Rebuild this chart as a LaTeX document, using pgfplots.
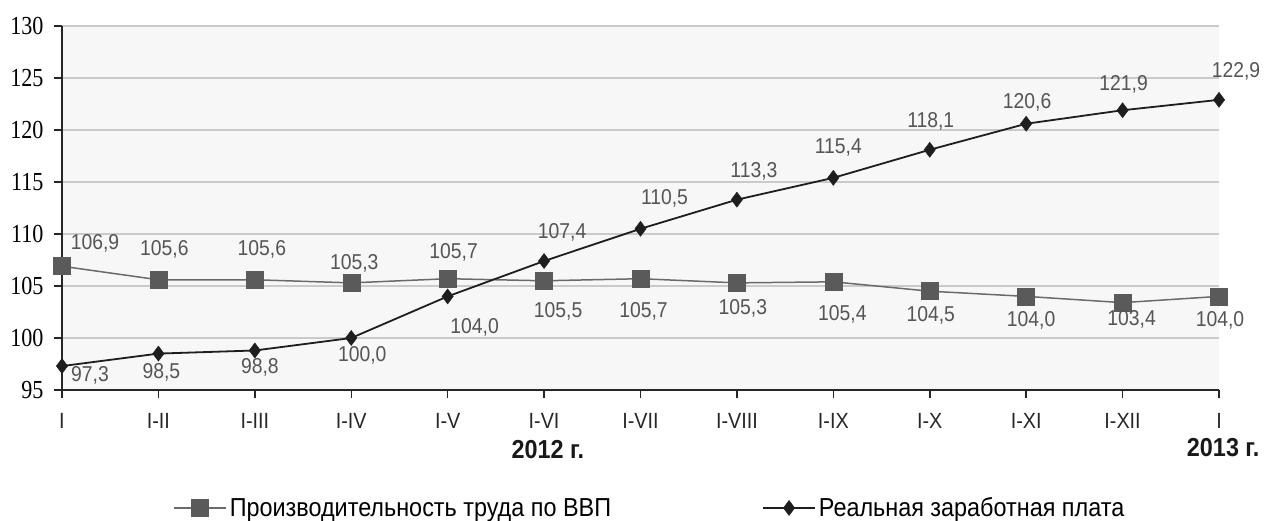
\documentclass[border=0pt]{standalone}
\usepackage{fontspec}
\setmainfont[FakeStretch=0.9]{Liberation Sans}
\newfontfamily\seriffont[FakeStretch=0.85]{Liberation Serif}
\usepackage{pgfplots}
\usepackage{pgfplotstable}
\pgfplotsset{compat=1.18}

\definecolor{prodgray}{HTML}{5A5A5A}
\definecolor{prodline}{HTML}{6A6A6A}
\definecolor{wageblack}{HTML}{1E1E1E}
\definecolor{labgray}{HTML}{555555}
\definecolor{gridgray}{HTML}{CACACA}
\definecolor{bggray}{HTML}{F7F7F7}

% x = period index, y = value, dx/dy = label offset in pt
\pgfplotstableread{
x y dx dy
0 106.9 33 23
1 105.6 6 30
2 105.6 7 30
3 105.3 3 20
4 105.7 6 26
5 105.5 14 -31
6 105.7 3 -33
7 105.3 6 -25
8 105.4 9 -33
9 104.5 1 -24
10 104.0 5 -24
11 103.4 9 -17
12 104.0 1 -24
}\tabprod

\pgfplotstableread{
x y dx dy
0 97.3 28 -9
1 98.5 3 -19
2 98.8 5 -17
3 100.0 11 -17
4 104.0 27 -31
5 107.4 18 29
6 110.5 24 30
7 113.3 17 28
8 115.4 5 30
9 118.1 1 28
10 120.6 1 21
11 121.9 1 26
12 122.9 17 28
}\tabwage

\pgfplotsset{
  vallabels/.style={
    draw=none, mark=none, forget plot,
    nodes near coords={\pgfmathprintnumber[fixed,fixed zerofill,precision=1,use comma]{\pgfplotspointmeta}},
    visualization depends on={\thisrow{dx}\as\labdx},
    visualization depends on={\thisrow{dy}\as\labdy},
    every node near coord/.append style={anchor=center, inner sep=0pt,
      xshift=\labdx pt, yshift=\labdy pt,
      font=\fontsize{21.5}{21.5}\selectfont, text=labgray},
  },
}

\begin{document}
\begin{tikzpicture}
\begin{axis}[
  name=ax,
  scale only axis, width=1157pt, height=364pt,
  xmin=0, xmax=12, ymin=95, ymax=130,
  xtick={0,...,12},
  xticklabels={I,I-II,I-III,I-IV,I-V,I-VI,I-VII,I-VIII,I-IX,I-X,I-XI,I-XII,I},
  ytick={95,100,...,130},
  axis x line=bottom, axis y line=left,
  axis line style={-, draw=black!85, line width=1.5pt},
  tick align=outside, major tick length=8pt,
  tick style={draw=black!85, line width=1.5pt},
  ymajorgrids, grid style={gridgray, line width=1.3pt},
  axis background/.style={fill=bggray},
  /pgf/number format/assume math mode=true,
  yticklabel style={font=\seriffont\fontsize{26}{26}\selectfont, text=black, xshift=-7pt},
  xticklabel style={font=\fontsize{22}{22}\selectfont, text=black!85, yshift=-12pt},
  clip=false,
  legend style={at={(0.096,-0.324)}, anchor=west, draw=none, fill=none,
    inner sep=0pt, legend columns=2, font=\fontsize{26}{26}\selectfont,
    nodes={inner sep=3pt}, legend cell align=left},
  legend image code/.code={\draw[mark repeat=2,mark phase=2]
    plot coordinates {(0pt,0pt)(26pt,0pt)(52pt,0pt)};},
]
\addplot[color=prodline, line width=1.5pt, mark=square*, mark size=8.5pt,
  mark options={fill=prodgray, draw=prodgray, line width=0.5pt}]
  table[x=x, y=y] {\tabprod};
\addlegendentry{Производительность труда по ВВП\rule{148pt}{0pt}}
\addplot[color=wageblack, line width=1.8pt, mark=diamond*, mark size=7.5pt,
  mark options={fill=wageblack, draw=wageblack, line width=0.5pt}]
  table[x=x, y=y] {\tabwage};
\addlegendentry{Реальная заработная плата}

\addplot[vallabels] table[x=x, y=y] {\tabprod};
\addplot[vallabels] table[x=x, y=y] {\tabwage};

\node[font=\bfseries\fontsize{26}{26}\selectfont, text=black!90]
  at (axis cs:5.04,89.23) {2012 г.};
\node[font=\bfseries\fontsize{26}{26}\selectfont, text=black!90, anchor=east]
  at (axis cs:12.456,89.5) {2013 г.};
\end{axis}
\pgfresetboundingbox
\path[use as bounding box] ([shift={(-62pt,-131pt)}]ax.south west)
  rectangle ([shift={(1204pt,390pt)}]ax.south west);
\end{tikzpicture}
\end{document}
